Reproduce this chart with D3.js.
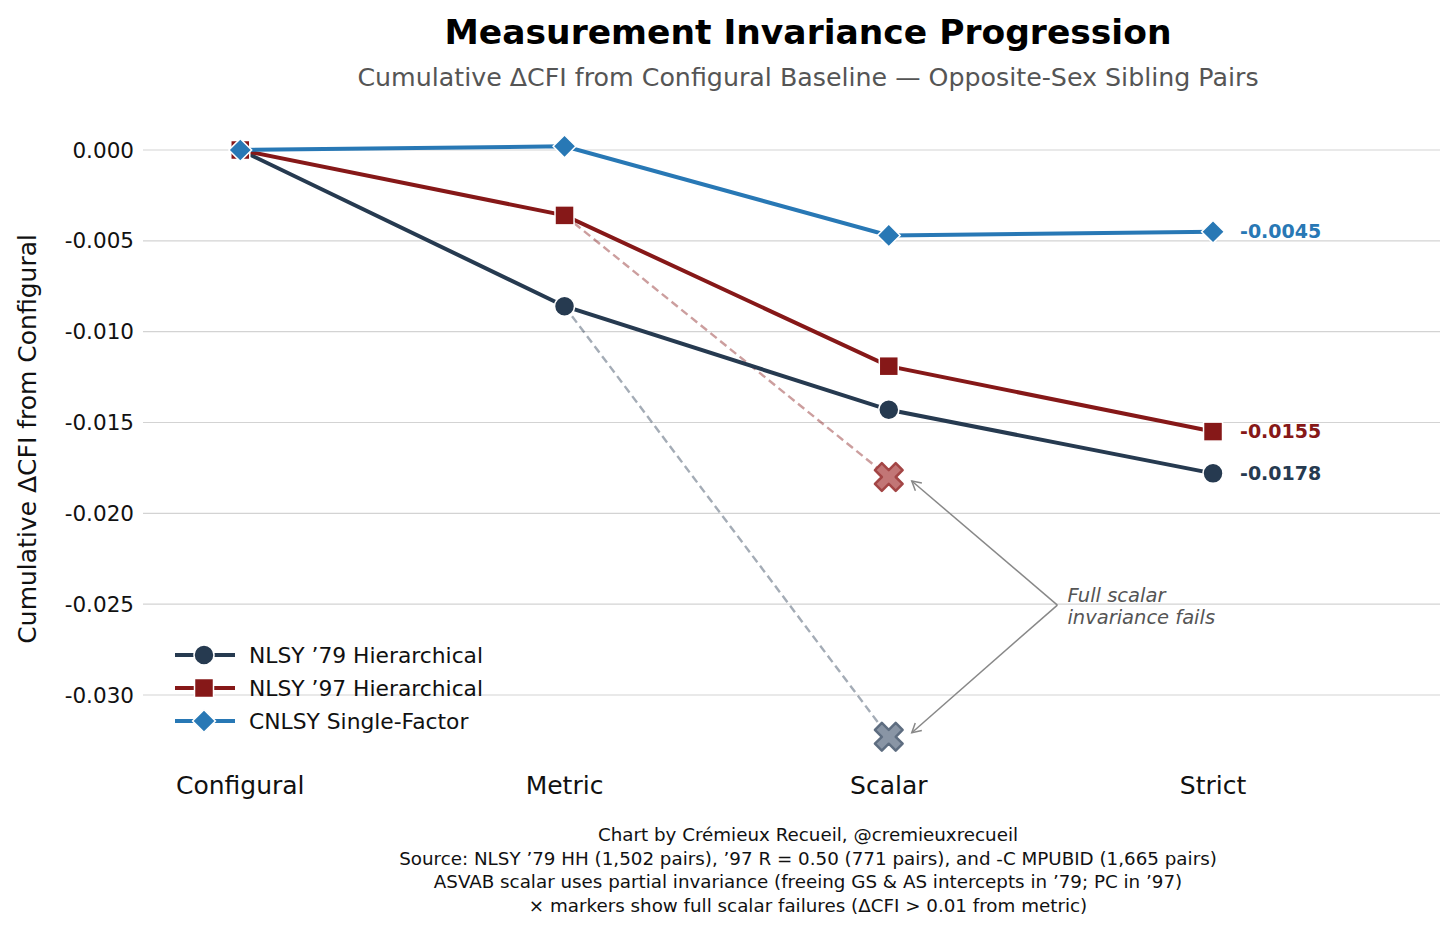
<!DOCTYPE html>
<html>
<head>
<meta charset="utf-8">
<script src="https://cdn.jsdelivr.net/npm/d3@7"></script>
<style>
  body { margin: 0; background: #fff; }
  svg { display: block; font-family: "DejaVu Sans", sans-serif; }
</style>
</head>
<body>
<div id="chart"></div>
<script>
// stages and series (cumulative ΔCFI from configural)
const stages = ['Configural', 'Metric', 'Scalar', 'Strict']
const nlsy79 = [0, -0.0086, -0.0143, -0.0178]
const nlsy97 = [0, -0.0036, -0.0119, -0.0155]
const cnlsy = [0, 0.0002, -0.0047, -0.0045]
// full scalar failures (no partial invariance)
const fullScalar79 = -0.0323
const fullScalar97 = -0.0180
const yTicks = [0, -0.005, -0.010, -0.015, -0.020, -0.025, -0.030]
const footer = [
  'Chart by Crémieux Recueil, @cremieuxrecueil',
  'Source: NLSY ’79 HH (1,502 pairs), ’97 R = 0.50 (771 pairs), and -C MPUBID (1,665 pairs)',
  'ASVAB scalar uses partial invariance (freeing GS & AS intercepts in ’79; PC in ’97)',
  '× markers show full scalar failures (ΔCFI > 0.01 from metric)'
]

const width = 1456
const height = 933

const series = [
  { name: 'NLSY ’79 Hierarchical', values: nlsy79, color: '#263a50', shape: 'circle', fail: fullScalar79, failFill: '#8995a5', failStroke: '#5e6d80' },
  { name: 'NLSY ’97 Hierarchical', values: nlsy97, color: '#861818', shape: 'square', fail: fullScalar97, failFill: '#c27676', failStroke: '#a34545' },
  { name: 'CNLSY Single-Factor', values: cnlsy, color: '#2878b5', shape: 'diamond' }
]

const svg = d3.select('#chart')
  .append('svg')
  .attr('width', width)
  .attr('height', height)

const x = d3.scaleLinear().domain([-0.3, 3.7]).range([143, 1440])
const y = d3.scaleLinear().domain([0, -0.030]).range([150, 695])

// gridlines
svg.append('g')
  .selectAll('line')
  .data(yTicks)
  .join('line')
  .attr('x1', x.range()[0])
  .attr('x2', x.range()[1])
  .attr('y1', d => y(d))
  .attr('y2', d => y(d))
  .attr('stroke', '#d3d3d3')
  .attr('stroke-width', 1.2)

// y axis tick labels
svg.append('g')
  .selectAll('text')
  .data(yTicks)
  .join('text')
  .attr('x', 134)
  .attr('y', d => y(d))
  .attr('dy', '0.35em')
  .attr('text-anchor', 'end')
  .attr('font-size', 21.5)
  .attr('fill', '#111')
  .text(d => d3.format('.3f')(d).replace('−', '-'))

// x axis category labels
svg.append('g')
  .selectAll('text')
  .data(stages)
  .join('text')
  .attr('x', (d, i) => x(i))
  .attr('y', 794)
  .attr('text-anchor', 'middle')
  .attr('font-size', 25)
  .attr('fill', '#111')
  .text(d => d)

// y axis title
svg.append('text')
  .attr('transform', `translate(36,${y(-0.0159)}) rotate(-90)`)
  .attr('text-anchor', 'middle')
  .attr('font-size', 25)
  .attr('fill', '#111')
  .text('Cumulative ΔCFI from Configural')

// title + subtitle
svg.append('text')
  .attr('x', 808).attr('y', 44)
  .attr('text-anchor', 'middle')
  .attr('font-size', 34.5)
  .attr('font-weight', 'bold')
  .attr('fill', '#000')
  .text('Measurement Invariance Progression')

svg.append('text')
  .attr('x', 808).attr('y', 86)
  .attr('text-anchor', 'middle')
  .attr('font-size', 25.3)
  .attr('fill', '#555')
  .text('Cumulative ΔCFI from Configural Baseline — Opposite-Sex Sibling Pairs')

// dashed lines from metric to full scalar failures
const failSeries = series.filter(s => s.fail !== undefined)
svg.append('g')
  .selectAll('line')
  .data(failSeries)
  .join('line')
  .attr('x1', x(1))
  .attr('y1', d => y(d.values[1]))
  .attr('x2', x(2))
  .attr('y2', d => y(d.fail))
  .attr('stroke', d => d.color)
  .attr('stroke-opacity', 0.42)
  .attr('stroke-width', 2.4)
  .attr('stroke-dasharray', '8,4.5')

const line = d3.line()
  .x((d, i) => x(i))
  .y(d => y(d))

function drawMarker(g, shape, color) {
  if (shape === 'circle') {
    g.append('circle').attr('r', 10)
      .attr('fill', color).attr('stroke', '#fff').attr('stroke-width', 1.5)
  } else if (shape === 'square') {
    g.append('rect').attr('x', -9.5).attr('y', -9.5).attr('width', 19).attr('height', 19)
      .attr('fill', color).attr('stroke', '#fff').attr('stroke-width', 1.5)
  } else {
    g.append('path').attr('d', d3.symbol(d3.symbolSquare, 260)())
      .attr('transform', 'rotate(45)')
      .attr('fill', color).attr('stroke', '#fff').attr('stroke-width', 1.5)
  }
}

// series lines, drawn back to front so CNLSY sits on top
series.forEach(s => {
  svg.append('path')
    .datum(s.values)
    .attr('fill', 'none')
    .attr('stroke', s.color)
    .attr('stroke-width', 4)
    .attr('d', line)

  s.values.forEach((v, i) => {
    const g = svg.append('g').attr('transform', `translate(${x(i)},${y(v)})`)
    drawMarker(g, s.shape, s.color)
  })

  // value label at the end
  const last = s.values[s.values.length - 1]
  svg.append('text')
    .attr('x', x(3) + 27)
    .attr('y', y(last))
    .attr('dy', '0.35em')
    .attr('font-size', 19)
    .attr('font-weight', 'bold')
    .attr('fill', s.color)
    .text(d3.format('.4f')(last).replace('−', '-'))
})

// X markers for full scalar failures
svg.append('g')
  .selectAll('path')
  .data(failSeries)
  .join('path')
  .attr('d', d3.symbol(d3.symbolCross, 480)())
  .attr('transform', d => `translate(${x(2)},${y(d.fail)}) rotate(45)`)
  .attr('fill', d => d.failFill)
  .attr('stroke', d => d.failStroke)
  .attr('stroke-width', 2.5)
  .attr('stroke-linejoin', 'round')

// annotation with arrows
const defs = svg.append('defs')
defs.append('marker')
  .attr('id', 'arrow')
  .attr('viewBox', '-10 -6 12 12')
  .attr('refX', 0).attr('refY', 0)
  .attr('markerWidth', 12).attr('markerHeight', 12)
  .attr('markerUnits', 'userSpaceOnUse')
  .attr('orient', 'auto')
  .append('path')
  .attr('d', 'M-9,-5 L0,0 L-9,5')
  .attr('fill', 'none')
  .attr('stroke', '#888')
  .attr('stroke-width', 1.5)

const noteX = x(2.52)
const noteY = y(-0.02505)
failSeries.forEach(s => {
  svg.append('line')
    .attr('x1', noteX).attr('y1', noteY)
    .attr('x2', x(2) + 23).attr('y2', y(s.fail) + (s.fail > -0.025 ? 4 : -4))
    .attr('stroke', '#888')
    .attr('stroke-width', 1.5)
    .attr('marker-end', 'url(#arrow)')
})

const note = svg.append('text')
  .attr('x', noteX + 10)
  .attr('y', noteY - 3)
  .attr('font-size', 19.5)
  .attr('font-style', 'italic')
  .attr('fill', '#555')
note.append('tspan').attr('x', noteX + 10).text('Full scalar')
note.append('tspan').attr('x', noteX + 10).attr('dy', 22).text('invariance fails')

// legend
const legend = svg.append('g').attr('transform', 'translate(175,655)')
series.forEach((s, i) => {
  const row = legend.append('g').attr('transform', `translate(0,${i * 33})`)
  row.append('line')
    .attr('x1', 0).attr('x2', 60)
    .attr('stroke', s.color).attr('stroke-width', 4)
  const m = row.append('g').attr('transform', 'translate(29,0)')
  drawMarker(m, s.shape, s.color)
  row.append('text')
    .attr('x', 74)
    .attr('dy', '0.35em')
    .attr('font-size', 21.8)
    .attr('fill', '#111')
    .text(s.name)
})

// footer
svg.append('g')
  .selectAll('text')
  .data(footer)
  .join('text')
  .attr('x', 808)
  .attr('y', (d, i) => 841 + i * 23.5)
  .attr('text-anchor', 'middle')
  .attr('font-size', 18.3)
  .attr('fill', '#111')
  .text(d => d)
</script>
</body>
</html>
